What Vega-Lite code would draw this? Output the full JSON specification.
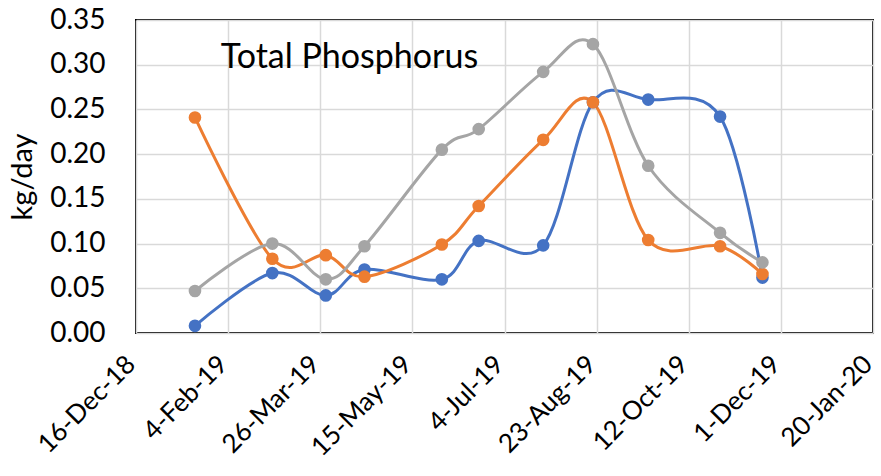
{
  "$schema": "https://vega.github.io/schema/vega-lite/v6.json",
  "autosize": {"type": "none"},
  "padding": {"left": 136, "top": 20, "right": 8, "bottom": 143},
  "width": 737,
  "height": 313,
  "background": "white",
  "config": {
    "font": "Lato",
    "view": {"stroke": "black", "strokeWidth": 2},
    "axis": {"gridColor": "#d9d9d9", "gridWidth": 1.5, "domain": false, "ticks": false, "labelColor": "black", "titleColor": "black", "labelFont": "Lato", "titleFont": "Lato"}
  },
  "datasets": {
    "series": [
      {"date": "2019-01-17T00:00", "series": "S1", "value": 0.008},
      {"date": "2019-02-28T00:00", "series": "S1", "value": 0.067},
      {"date": "2019-03-29T00:00", "series": "S1", "value": 0.042},
      {"date": "2019-04-19T00:00", "series": "S1", "value": 0.071},
      {"date": "2019-05-31T00:00", "series": "S1", "value": 0.060},
      {"date": "2019-06-20T00:00", "series": "S1", "value": 0.103},
      {"date": "2019-07-25T00:00", "series": "S1", "value": 0.098},
      {"date": "2019-08-21T00:00", "series": "S1", "value": 0.258},
      {"date": "2019-09-20T00:00", "series": "S1", "value": 0.261},
      {"date": "2019-10-29T00:00", "series": "S1", "value": 0.242},
      {"date": "2019-11-21T00:00", "series": "S1", "value": 0.062},
      {"date": "2019-01-17T00:00", "series": "S2", "value": 0.241},
      {"date": "2019-02-28T00:00", "series": "S2", "value": 0.083},
      {"date": "2019-03-29T00:00", "series": "S2", "value": 0.087},
      {"date": "2019-04-19T00:00", "series": "S2", "value": 0.063},
      {"date": "2019-05-31T00:00", "series": "S2", "value": 0.099},
      {"date": "2019-06-20T00:00", "series": "S2", "value": 0.142},
      {"date": "2019-07-25T00:00", "series": "S2", "value": 0.216},
      {"date": "2019-08-21T00:00", "series": "S2", "value": 0.258},
      {"date": "2019-09-20T00:00", "series": "S2", "value": 0.104},
      {"date": "2019-10-29T00:00", "series": "S2", "value": 0.097},
      {"date": "2019-11-21T00:00", "series": "S2", "value": 0.066},
      {"date": "2019-01-17T00:00", "series": "S3", "value": 0.047},
      {"date": "2019-02-28T00:00", "series": "S3", "value": 0.100},
      {"date": "2019-03-29T00:00", "series": "S3", "value": 0.060},
      {"date": "2019-04-19T00:00", "series": "S3", "value": 0.097},
      {"date": "2019-05-31T00:00", "series": "S3", "value": 0.205},
      {"date": "2019-06-20T00:00", "series": "S3", "value": 0.228},
      {"date": "2019-07-25T00:00", "series": "S3", "value": 0.292},
      {"date": "2019-08-21T00:00", "series": "S3", "value": 0.323},
      {"date": "2019-09-20T00:00", "series": "S3", "value": 0.187},
      {"date": "2019-10-29T00:00", "series": "S3", "value": 0.112},
      {"date": "2019-11-21T00:00", "series": "S3", "value": 0.079}
    ],
    "label": [
      {"date": "2019-01-31T00:00", "value": 0.307, "text": "Total Phosphorus"}
    ]
  },
  "layer": [
    {
      "data": {"name": "series"},
      "mark": {"type": "line", "interpolate": "cardinal", "strokeWidth": 3, "point": {"filled": true, "size": 160, "opacity": 1}},
      "encoding": {
        "x": {
          "field": "date", "type": "temporal",
          "scale": {"domain": [{"year": 2018, "month": 12, "date": 16}, {"year": 2020, "month": 1, "date": 20}]},
          "axis": {
            "title": null,
            "values": [
              {"year": 2018, "month": 12, "date": 16},
              {"year": 2019, "month": 2, "date": 4},
              {"year": 2019, "month": 3, "date": 26},
              {"year": 2019, "month": 5, "date": 15},
              {"year": 2019, "month": 7, "date": 4},
              {"year": 2019, "month": 8, "date": 23},
              {"year": 2019, "month": 10, "date": 12},
              {"year": 2019, "month": 12, "date": 1},
              {"year": 2020, "month": 1, "date": 20}
            ],
            "format": "%-d-%b-%y",
            "labelAngle": -45,
            "labelAlign": "right",
            "labelBaseline": "bottom",
            "labelFontSize": 26,
            "labelPadding": 36,
            "labelOffset": 4,
            "labelOverlap": false,
            "labelFlush": false
          }
        },
        "y": {
          "field": "value", "type": "quantitative",
          "scale": {"domain": [0, 0.35], "nice": false},
          "axis": {
            "title": "kg/day",
            "values": [0, 0.05, 0.1, 0.15, 0.2, 0.25, 0.3, 0.35],
            "format": ".2f",
            "labelFontSize": 28,
            "labelPadding": 31,
            "titleFontSize": 29,
            "titleFontWeight": "normal",
            "titlePadding": 12,
            "labelFlush": false
          }
        },
        "color": {
          "field": "series", "type": "nominal",
          "scale": {"domain": ["S1", "S2", "S3"], "range": ["#4472C4", "#ED7D31", "#A5A5A5"]},
          "legend": null
        }
      }
    },
    {
      "data": {"name": "label"},
      "mark": {"type": "text", "align": "left", "baseline": "middle", "fontSize": 34, "font": "Lato", "color": "black"},
      "encoding": {
        "x": {"field": "date", "type": "temporal"},
        "y": {"field": "value", "type": "quantitative"},
        "text": {"field": "text"}
      }
    }
  ]
}
